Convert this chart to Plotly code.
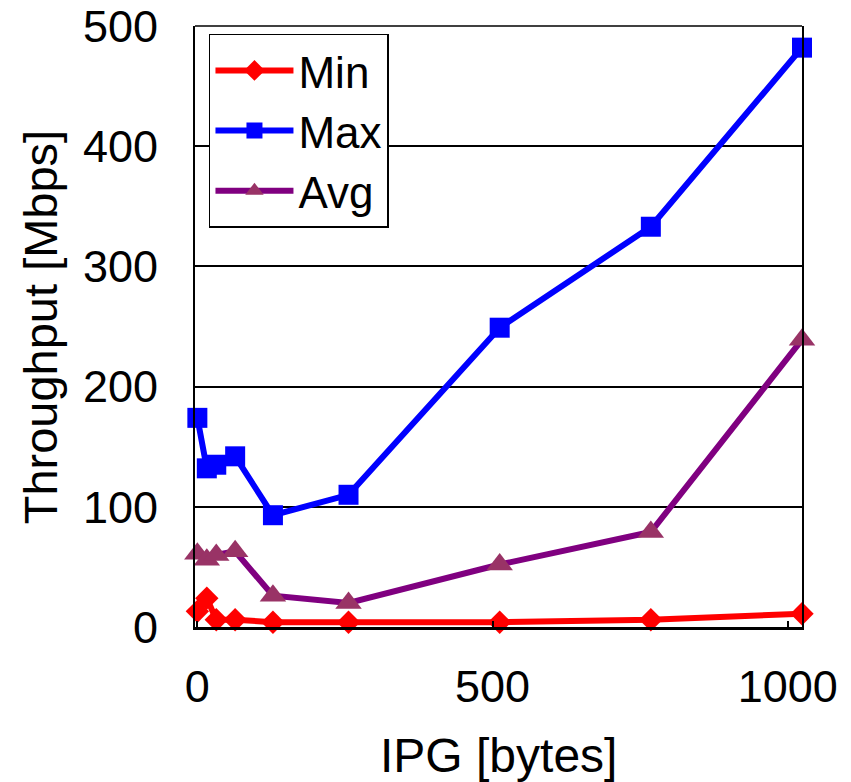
import plotly.graph_objects as go

# Inter-packet gap settings (bytes) and measured throughput (Mbps)
ipg = [0, 16, 32, 64, 128, 256, 512, 768, 1024]
tp_min = [13, 24, 6, 6, 4, 4, 4, 6, 11]
tp_max = [174, 132, 135, 142, 93, 110, 249, 333, 482]
tp_avg = [61, 56, 60, 63, 26, 20, 52, 79, 239]

x_ticks = [0, 500, 1000]
y_ticks = [0, 100, 200, 300, 400, 500]

BASE_FONT = "Liberation Sans, Arial, sans-serif"
NARROW_FONT = "Liberation Sans Narrow, Arial Narrow, Liberation Sans, sans-serif"

fig = go.Figure()

fig.add_trace(go.Scatter(
    x=ipg, y=tp_min, name="Min", mode="lines+markers",
    line=dict(color="#FF0000", width=6),
    marker=dict(symbol="diamond", size=18, color="#FF0000"),
    cliponaxis=False,
))
fig.add_trace(go.Scatter(
    x=ipg, y=tp_max, name="Max", mode="lines+markers",
    line=dict(color="#0000FF", width=6),
    marker=dict(symbol="square", size=20, color="#0000FF"),
    cliponaxis=False,
))
fig.add_trace(go.Scatter(
    x=ipg, y=tp_avg, name="Avg", mode="lines+markers",
    line=dict(color="#800080", width=6),
    marker=dict(symbol="triangle-up", size=23, color="#993366"),
    cliponaxis=False,
))

fig.update_layout(
    width=851, height=782,
    margin=dict(l=195, r=49, t=26, b=155, autoexpand=False),
    paper_bgcolor="white", plot_bgcolor="white",
    font=dict(family=BASE_FONT, color="black"),
    showlegend=True,
    legend=dict(
        x=0.023, y=0.987, xanchor="left", yanchor="top",
        bgcolor="white", bordercolor="black", borderwidth=1.5,
        font=dict(size=44, family=BASE_FONT, color="black"),
        itemwidth=78,
        tracegroupgap=0,
    ),
    xaxis=dict(
        range=[-4, 1024], automargin=False,
        tickmode="array", tickvals=x_ticks,
        ticks="inside", ticklen=6, tickwidth=1.5, tickcolor="black",
        showgrid=False, zeroline=False,
        showline=True, linecolor="black", linewidth=3,
        tickfont=dict(size=45, family=NARROW_FONT, color="black"),
        ticklabelstandoff=18,
    ),
    yaxis=dict(
        range=[0, 500], automargin=False,
        tickmode="array", tickvals=y_ticks,
        ticks="",
        showgrid=True, gridcolor="black", gridwidth=1.5,
        zeroline=False,
        showline=True, linecolor="black", linewidth=2, mirror=True,
        tickfont=dict(size=45, family=BASE_FONT, color="black"),
        ticklabelstandoff=26,
    ),
    shapes=[
        # top border of the plot frame
        dict(type="line", xref="paper", yref="paper", x0=0, x1=1, y0=1, y1=1,
             line=dict(color="black", width=1.5)),
    ],
    annotations=[
        dict(text="IPG [bytes]", xref="paper", yref="paper",
             x=0.5, y=-0.213, xanchor="center", yanchor="middle",
             showarrow=False, font=dict(size=48, family=BASE_FONT, color="black")),
        dict(text="Throughput [Mbps]", xref="paper", yref="paper",
             x=-0.254, y=0.5, xanchor="center", yanchor="middle", textangle=-90,
             showarrow=False, font=dict(size=47, family=BASE_FONT, color="black")),
    ],
)

fig.write_html("out.html")
